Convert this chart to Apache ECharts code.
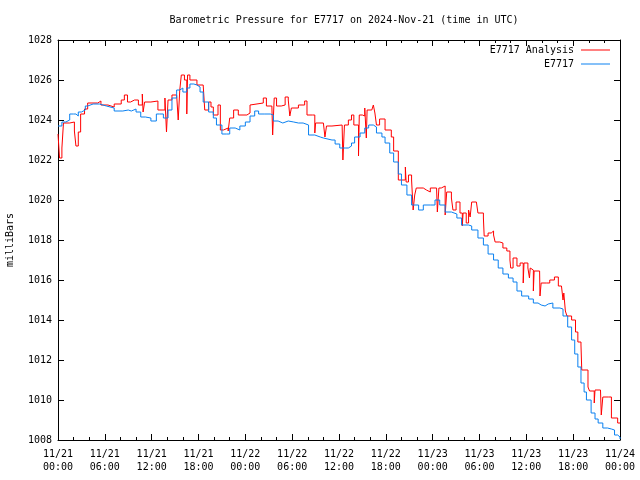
<!DOCTYPE html>
<html>
<head>
<meta charset="utf-8">
<script src="https://cdn.jsdelivr.net/npm/echarts@6/dist/echarts.min.js"></script>
<style>html,body{margin:0;padding:0;background:#fff;}#c{width:640px;height:480px;}</style>
</head>
<body>
<div id="c"></div>
<script>
// Hours since 2024-11-21 00:00 UTC, pressure in mb
const tickLabels = ['11/21\n00:00','11/21\n06:00','11/21\n12:00','11/21\n18:00','11/22\n00:00','11/22\n06:00','11/22\n12:00','11/22\n18:00','11/23\n00:00','11/23\n06:00','11/23\n12:00','11/23\n18:00','11/24\n00:00'];
const yTicks = [1008,1010,1012,1014,1016,1018,1020,1022,1024,1026,1028];

const analysisData = [
[0,1023.3],[0.2,1022.1],[0.5,1022.6],[0.7,1023.85],[1.5,1023.9],[2.1,1023.45],[2.3,1022.7],[2.6,1023.4],[2.9,1024.3],[3.4,1024.55],
[3.8,1024.85],[5.1,1024.95],[5.5,1024.75],[6.4,1024.65],[7.2,1024.8],[8.1,1025.0],[8.5,1025.25],[8.9,1024.9],[9.3,1025.0],[9.8,1025.0],
[10.3,1024.75],[10.8,1025.3],[10.9,1024.4],[11.1,1024.9],[11.9,1024.95],[12.8,1024.5],[13.7,1025.1],[13.9,1023.4],[14.1,1025.0],[14.6,1025.25],
[15.2,1025.2],[15.4,1024.0],[15.6,1025.5],[15.8,1026.25],[16.2,1026.0],[16.5,1024.3],[16.6,1026.25],[16.9,1026.0],[17.8,1025.75],[18.6,1025.75],
[18.8,1024.5],[19.3,1024.9],[19.6,1024.65],[19.9,1024.25],[20.5,1024.75],[20.8,1023.5],[21.2,1023.6],[21.8,1023.45],[22.0,1024.1],[22.5,1024.5],
[23.1,1024.25],[24.2,1024.35],[24.6,1024.75],[24.8,1024.85],[26.3,1025.1],[26.7,1024.7],[27.4,1024.75],[27.5,1023.25],[27.7,1025.1],[28.0,1024.7],
[28.6,1024.75],[29.1,1025.15],[29.5,1025.0],[29.7,1024.2],[29.9,1024.6],[30.8,1024.75],[31.6,1024.95],[31.9,1024.25],[32.6,1024.25],[32.9,1023.35],
[33.0,1023.85],[34.0,1023.75],[34.2,1023.15],[34.4,1023.7],[35.1,1023.75],[36.4,1023.75],[36.5,1022.0],[36.7,1023.75],[37.2,1024.0],[37.6,1024.25],
[37.9,1023.75],[38.5,1022.2],[38.6,1024.25],[39.0,1024.2],[39.3,1024.6],[39.5,1023.1],[39.6,1024.5],[40.2,1024.5],[40.4,1024.75],[40.6,1024.35],
[40.8,1023.75],[41.2,1024.05],[41.9,1023.5],[42.7,1023.15],[43.0,1022.45],[43.6,1021.0],[44.5,1021.65],[44.6,1020.9],[44.9,1021.25],[45.3,1021.0],
[45.5,1019.5],[45.7,1020.25],[45.9,1020.6],[46.8,1020.5],[47.2,1020.4],[47.7,1020.6],[48.5,1020.5],[48.6,1019.4],[48.8,1020.6],[49.1,1020.7],
[49.6,1019.25],[49.8,1020.4],[50.4,1020.1],[50.6,1019.5],[51.0,1019.9],[51.5,1019.35],[51.8,1018.7],[51.9,1019.35],[52.3,1018.85],[52.6,1019.5],
[52.8,1019.15],[53.0,1019.9],[53.6,1019.85],[53.8,1019.35],[54.5,1019.1],[54.6,1018.2],[55.1,1018.35],[55.5,1018.45],[55.8,1018.25],[56.0,1017.9],
[56.6,1017.85],[57.0,1017.6],[57.5,1017.45],[57.9,1017.0],[58.0,1016.6],[58.3,1017.1],[58.8,1016.7],[59.2,1016.85],[59.6,1015.85],[59.7,1016.85],
[60.2,1016.6],[60.4,1016.1],[60.5,1016.6],[60.7,1016.5],[60.9,1015.45],[61.0,1016.45],[61.7,1016.4],[61.75,1015.2],[61.9,1015.85],[62.6,1015.85],
[63.0,1016.0],[63.6,1016.15],[64.1,1015.7],[64.5,1015.6],[64.7,1015.0],[64.8,1015.35],[65.0,1014.45],[65.2,1014.2],[65.8,1014.0],[66.3,1013.4],
[66.6,1012.9],[67.0,1012.75],[67.1,1011.5],[67.9,1010.65],[68.1,1010.45],[68.7,1009.85],[68.8,1010.5],[69.5,1010.45],[69.6,1009.25],[69.8,1010.15],
[70.5,1010.1],[70.7,1010.15],[70.9,1009.1],[71.7,1008.85],[72.0,1008.85]
];

const stationData = [
[0,1023.7],[0.5,1023.9],[1.0,1024.0],[1.5,1024.3],[2.0,1024.3],[2.3,1024.2],[2.6,1024.4],[3.0,1024.5],[3.5,1024.7],[3.8,1024.8],
[4.5,1024.8],[5.3,1024.7],[6.2,1024.6],[7.2,1024.45],[8.3,1024.5],[9.0,1024.45],[9.4,1024.55],[10.0,1024.4],[10.6,1024.15],[11.2,1024.1],
[11.9,1023.95],[12.6,1024.3],[13.0,1024.3],[13.5,1024.1],[14.1,1024.5],[14.6,1025.1],[15.2,1025.5],[15.6,1025.6],[16.0,1025.4],[16.5,1025.6],
[16.9,1025.8],[17.4,1025.75],[17.8,1025.65],[18.2,1025.4],[18.6,1024.9],[19.3,1024.4],[19.9,1024.1],[20.3,1023.75],[21.0,1023.3],[21.6,1023.3],
[22.0,1023.6],[22.7,1023.5],[23.3,1023.7],[24.0,1023.9],[24.6,1024.2],[25.2,1024.45],[25.7,1024.3],[26.5,1024.3],[27.2,1024.25],[27.6,1023.95],
[28.2,1023.85],[28.8,1023.95],[29.5,1023.9],[30.2,1023.85],[30.8,1023.85],[31.4,1023.75],[32.1,1023.25],[32.9,1023.15],[33.6,1023.1],[34.0,1023.0],
[35.1,1023.0],[35.5,1022.8],[36.1,1022.6],[36.8,1022.6],[37.2,1022.7],[37.6,1022.85],[38.0,1023.15],[38.7,1023.35],[39.3,1023.6],[39.8,1023.75],
[40.4,1023.65],[40.8,1023.35],[41.5,1023.15],[41.9,1022.85],[42.5,1022.35],[43.0,1021.9],[43.6,1021.3],[44.0,1020.75],[44.7,1020.25],[45.3,1019.75],
[46.2,1019.5],[46.8,1019.75],[47.7,1019.75],[48.3,1020.0],[48.9,1019.75],[49.6,1019.4],[50.4,1019.3],[51.1,1019.1],[51.7,1018.75],[52.6,1018.7],
[53.0,1018.5],[53.8,1018.1],[54.5,1017.75],[55.1,1017.3],[55.8,1017.0],[56.4,1016.6],[57.0,1016.3],[57.7,1016.1],[58.3,1015.9],[58.8,1015.45],
[59.4,1015.2],[60.3,1015.05],[60.9,1014.85],[61.5,1014.75],[61.9,1014.7],[62.4,1014.8],[62.8,1014.85],[63.4,1014.6],[64.3,1014.55],[64.7,1014.2],
[65.3,1013.65],[65.8,1013.0],[66.2,1012.3],[66.6,1011.65],[67.0,1010.85],[67.4,1010.4],[67.7,1010.0],[68.3,1009.35],[68.8,1009.05],[69.2,1008.85],
[69.8,1008.6],[70.4,1008.55],[70.9,1008.5],[71.3,1008.25],[71.7,1008.15],[72.0,1008.05]
];

const FONT = 'DejaVu Sans Mono';
const RED = '#ff0000';
const BLUE = '#0a80f0';
const chart = echarts.init(document.getElementById('c'), null, {renderer: 'canvas'});
const xCommon = {
  type: 'value', min: 0, max: 72, interval: 6,
  axisLine: {show: true, onZero: false, lineStyle: {color: '#000', width: 1}},
  axisTick: {show: true, inside: true, length: 6, lineStyle: {color: '#000'}},
  minorTick: {show: true, splitNumber: 3, length: 3, lineStyle: {color: '#000'}},
  splitLine: {show: false}
};
const yCommon = {
  type: 'value', min: 1008, max: 1028, interval: 2,
  axisLine: {show: true, onZero: false, lineStyle: {color: '#000', width: 1}},
  axisTick: {show: true, inside: true, length: 6, lineStyle: {color: '#000'}},
  splitLine: {show: false}
};
const legendCommon = {
  right: 30, align: 'right', padding: 0, itemWidth: 29, itemHeight: 1, itemGap: 5,
  icon: 'rect',
  textStyle: {fontFamily: FONT, fontSize: 10, color: '#000', padding: [0, 2, 0, 0]}
};
chart.setOption({
  animation: false,
  backgroundColor: '#fff',
  title: {
    text: 'Barometric Pressure for E7717 on 2024-Nov-21 (time in UTC)',
    left: 339, top: 10, textAlign: 'center',
    textStyle: {fontFamily: FONT, fontSize: 10, fontWeight: 'normal', color: '#000'}
  },
  legend: [
    Object.assign({}, legendCommon, {data: ['E7717 Analysis'], top: 45}),
    Object.assign({}, legendCommon, {data: ['E7717'], top: 59})
  ],
  grid: {left: 58, right: 20, top: 40, bottom: 40, containLabel: false, outerBoundsMode: 'none'},
  xAxis: [
    Object.assign({}, xCommon, {position: 'bottom',
      axisLabel: {show: true, margin: 8, fontFamily: FONT, fontSize: 10, color: '#000', lineHeight: 13,
        formatter: v => tickLabels[Math.round(v / 6)]}}),
    Object.assign({}, xCommon, {position: 'top', axisLabel: {show: false}})
  ],
  yAxis: [
    Object.assign({}, yCommon, {position: 'left', name: 'milliBars', nameLocation: 'middle', nameGap: 43, nameRotate: 90,
      nameTextStyle: {fontFamily: FONT, fontSize: 10, color: '#000'},
      axisLabel: {show: true, margin: 6, fontFamily: FONT, fontSize: 10, color: '#000',
        formatter: v => String(yTicks[Math.round((v - 1008) / 2)])}}),
    Object.assign({}, yCommon, {position: 'right', axisLabel: {show: false}})
  ],
  series: [
    {name: 'E7717 Analysis', type: 'line', step: 'end', symbol: 'none', data: analysisData,
     lineStyle: {color: RED, width: 1}, itemStyle: {color: RED}, xAxisIndex: 0, yAxisIndex: 0},
    {name: 'E7717', type: 'line', step: 'end', symbol: 'none', data: stationData,
     lineStyle: {color: BLUE, width: 1}, itemStyle: {color: BLUE}, xAxisIndex: 0, yAxisIndex: 0}
  ]
});
</script>
</body>
</html>
